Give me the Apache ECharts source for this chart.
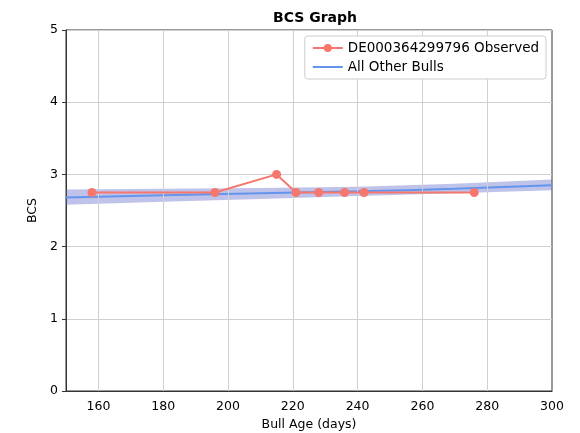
<!DOCTYPE html>
<html>
<head>
<meta charset="utf-8">
<script src="https://cdn.jsdelivr.net/npm/echarts@6/dist/echarts.min.js"></script>
<style>
  html, body { margin: 0; padding: 0; background: #fff; }
  #chart { width: 580px; height: 433px; }
</style>
</head>
<body>
<div id="chart"></div>
<script>
// observed bull
const obsAge = [158, 196, 215, 221, 228, 236, 242, 276];
const obsBcs = [2.75, 2.75, 3.0, 2.75, 2.75, 2.75, 2.75, 2.75];

// all other bulls: mean line and band
const herdAge = [150, 180, 210, 240, 270, 300];
const herdMean = [2.68, 2.71, 2.74, 2.765, 2.80, 2.85];
const herdLow = [2.58, 2.62, 2.66, 2.70, 2.74, 2.78];
const herdHigh = [2.79, 2.80, 2.81, 2.83, 2.87, 2.93];

const xTicks = [160, 180, 200, 220, 240, 260, 280, 300];

const font = "DejaVu Sans";
let myChart = echarts.init(document.getElementById("chart"));

// band polygon, drawn once from all rows through the axis scale
function renderBand(params, api) {
  if (params.dataIndex !== 0) return null;
  let top = herdAge.map((a, i) => api.coord([a, herdHigh[i]]));
  let bottom = herdAge.map((a, i) => api.coord([a, herdLow[i]])).reverse();
  return {
    type: "polygon",
    shape: { points: top.concat(bottom) },
    style: { fill: "rgba(95,105,200,0.4)" },
    silent: true,
  };
}

let option = {
  animation: false,
  title: {
    text: "BCS Graph",
    left: 310,
    textAlign: "center",
    top: 6,
    textStyle: { fontFamily: font, fontSize: 14, fontWeight: "bold", color: "#000" },
  },
  legend: {
    orient: "vertical",
    right: 34,
    top: 36,
    z: 20,
    itemWidth: 30,
    itemHeight: 10,
    itemGap: 5,
    padding: [5, 7, 5, 7],
    borderColor: "#ccc",
    borderWidth: 1,
    borderRadius: 3,
    backgroundColor: "#fff",
    textStyle: { fontFamily: font, fontSize: 13.5, color: "#000" },
    data: [
      { name: "DE000364299796 Observed" },
      { name: "All Other Bulls", icon: "path://M0,4 L30,4 L30,6 L0,6 Z" },
    ],
  },
  grid: {
    left: 66, right: 28, top: 30, bottom: 42,
    outerBoundsMode: "none",
    containLabel: false,
    show: true, borderColor: "#333", borderWidth: 1,
  },
  xAxis: {
    type: "value",
    min: 150, max: 300, interval: 10,
    name: "Bull Age (days)",
    nameLocation: "middle",
    nameGap: 26,
    nameTextStyle: { fontFamily: font, fontSize: 12.5, color: "#000" },
    axisLine: { lineStyle: { color: "#333" } },
    axisTick: { show: false },
    splitLine: { show: false },
    axisLabel: {
      fontFamily: font, fontSize: 12.5, color: "#000", margin: 9,
      formatter: (v) => (xTicks.includes(v) ? String(v) : ""),
    },
  },
  yAxis: {
    type: "value",
    min: 0, max: 5, interval: 1,
    name: "BCS",
    nameLocation: "middle",
    nameGap: 22,
    nameTextStyle: { fontFamily: font, fontSize: 12.5, color: "#000" },
    axisLine: { show: true, lineStyle: { color: "#333" } },
    axisTick: { show: true, length: 4, lineStyle: { color: "#333" } },
    axisLabel: { fontFamily: font, fontSize: 12.5, color: "#000", margin: 8 },
    splitLine: { lineStyle: { color: "#d0d0d0", width: 1 } },
  },
  series: [
    {
      name: "band",
      type: "custom",
      data: herdAge.map((a, i) => [a, herdLow[i], herdHigh[i]]),
      encode: { x: 0, y: [1, 2] },
      renderItem: renderBand,
      silent: true,
      z: 1,
      // vertical grid lines
      markLine: {
        silent: true,
        symbol: "none",
        label: { show: false },
        lineStyle: { color: "#d0d0d0", type: "solid", width: 1 },
        data: xTicks.slice(0, -1).map((t) => ({ xAxis: t })),
      },
    },
    {
      name: "All Other Bulls",
      type: "line",
      data: herdAge.map((a, i) => [a, herdMean[i]]),
      symbol: "none",
      smooth: true,
      itemStyle: { color: "#6495ed" },
      lineStyle: { color: "#6495ed", width: 2 },
      z: 3,
    },
    {
      name: "DE000364299796 Observed",
      type: "line",
      data: obsAge.map((a, i) => [a, obsBcs[i]]),
      symbol: "circle",
      symbolSize: 9,
      itemStyle: { color: "#f6776d" },
      lineStyle: { color: "#f6776d", width: 2 },
      z: 5,
    },
  ],
};

myChart.setOption(option);
</script>
</body>
</html>
